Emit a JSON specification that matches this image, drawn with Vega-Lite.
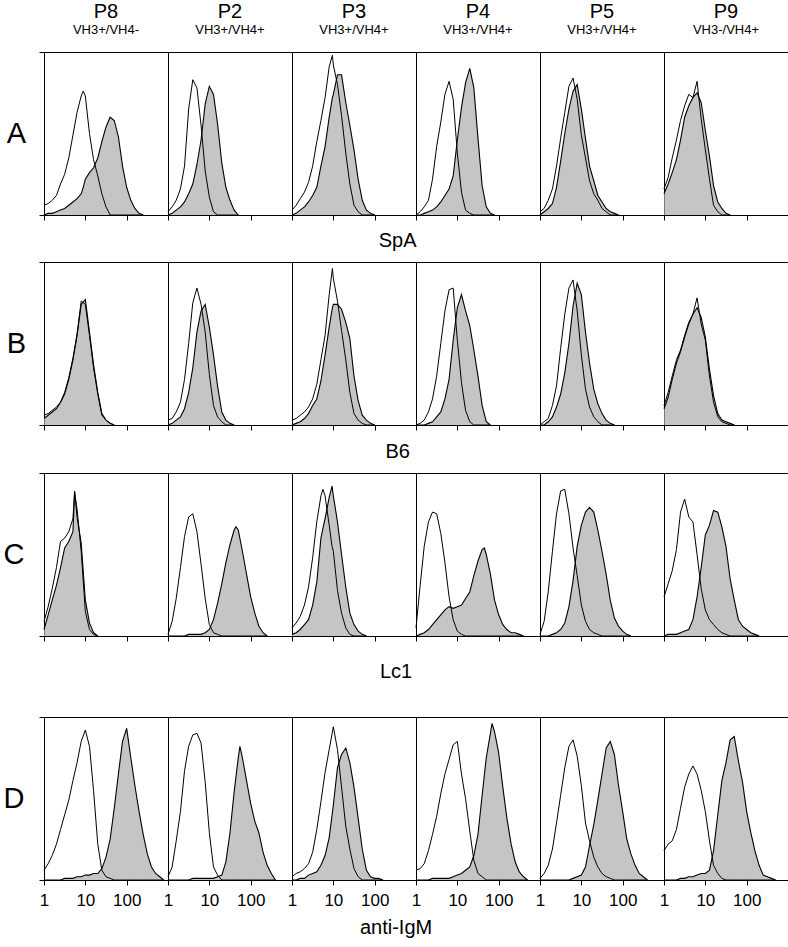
{
"$schema":"https://vega.github.io/schema/vega-lite/v6.json",
"background":"white",
"padding":{"left":3,"top":2,"right":0,"bottom":0},
"config":{"font":"Liberation Sans","view":{"stroke":"#000","strokeWidth":1},
"axis":{"grid":false,"domain":false,"minExtent":0,"tickColor":"#000","tickSize":5,"labelColor":"#000","labelFontSize":17,"labelFlush":false,"labelOverlap":false,"labelPadding":3,"labelFont":"Liberation Sans"},
"header":{"labelColor":"#000","labelFont":"Liberation Sans"},
"title":{"color":"#000","fontWeight":"normal","fontSize":20,"font":"Liberation Sans"}},
"data":{"values":[
{"r":"A","p":"P8","t":"VH3+/VH4-"},{"r":"A","p":"P2","t":"VH3+/VH4+"},{"r":"A","p":"P3","t":"VH3+/VH4+"},{"r":"A","p":"P4","t":"VH3+/VH4+"},{"r":"A","p":"P5","t":"VH3+/VH4+"},{"r":"A","p":"P9","t":"VH3-/VH4+"},
{"r":"A","p":"P8","x":1,"o":6,"f":0},{"r":"A","p":"P8","x":1.26,"o":7,"f":1},{"r":"A","p":"P8","x":1.58,"o":9,"f":1},{"r":"A","p":"P8","x":2,"o":12,"f":2},{"r":"A","p":"P8","x":2.51,"o":19,"f":3},{"r":"A","p":"P8","x":3.16,"o":25,"f":4},{"r":"A","p":"P8","x":3.98,"o":35,"f":6},{"r":"A","p":"P8","x":5.01,"o":49,"f":8},{"r":"A","p":"P8","x":6.31,"o":63,"f":10},{"r":"A","p":"P8","x":7.94,"o":73,"f":13},{"r":"A","p":"P8","x":8.9,"o":76,"f":17},{"r":"A","p":"P8","x":10,"o":73,"f":22},{"r":"A","p":"P8","x":12.6,"o":50,"f":26},{"r":"A","p":"P8","x":15.8,"o":34,"f":29},{"r":"A","p":"P8","x":20,"o":24,"f":35},{"r":"A","p":"P8","x":25.1,"o":13,"f":45},{"r":"A","p":"P8","x":31.6,"o":5,"f":54},{"r":"A","p":"P8","x":39.8,"o":0,"f":60},{"r":"A","p":"P8","x":50.1,"o":0,"f":58},{"r":"A","p":"P8","x":63.1,"o":0,"f":48},{"r":"A","p":"P8","x":79.4,"o":0,"f":30},{"r":"A","p":"P8","x":100,"o":0,"f":17},{"r":"A","p":"P8","x":126,"o":0,"f":9},{"r":"A","p":"P8","x":158,"o":0,"f":4},{"r":"A","p":"P8","x":200,"o":0,"f":1},{"r":"A","p":"P8","x":251,"o":0,"f":0},
{"r":"A","p":"P2","x":1,"o":2,"f":0},{"r":"A","p":"P2","x":1.26,"o":5,"f":1},{"r":"A","p":"P2","x":1.58,"o":9,"f":3},{"r":"A","p":"P2","x":2,"o":16,"f":5},{"r":"A","p":"P2","x":2.51,"o":30,"f":8},{"r":"A","p":"P2","x":3.16,"o":65,"f":13},{"r":"A","p":"P2","x":3.98,"o":83,"f":19},{"r":"A","p":"P2","x":5.01,"o":78,"f":31},{"r":"A","p":"P2","x":6.31,"o":55,"f":46},{"r":"A","p":"P2","x":7.94,"o":27,"f":68},{"r":"A","p":"P2","x":10,"o":11,"f":79},{"r":"A","p":"P2","x":12.6,"o":2,"f":74},{"r":"A","p":"P2","x":15.8,"o":0,"f":56},{"r":"A","p":"P2","x":20,"o":0,"f":32},{"r":"A","p":"P2","x":25.1,"o":0,"f":17},{"r":"A","p":"P2","x":31.6,"o":0,"f":9},{"r":"A","p":"P2","x":39.8,"o":0,"f":3},{"r":"A","p":"P2","x":50.1,"o":0,"f":0},
{"r":"A","p":"P3","x":1,"o":3,"f":0},{"r":"A","p":"P3","x":1.26,"o":6,"f":1},{"r":"A","p":"P3","x":1.58,"o":10,"f":3},{"r":"A","p":"P3","x":2,"o":14,"f":5},{"r":"A","p":"P3","x":2.51,"o":20,"f":8},{"r":"A","p":"P3","x":3.16,"o":30,"f":12},{"r":"A","p":"P3","x":3.98,"o":45,"f":17},{"r":"A","p":"P3","x":5.01,"o":58,"f":30},{"r":"A","p":"P3","x":6.31,"o":72,"f":42},{"r":"A","p":"P3","x":7.94,"o":91,"f":60},{"r":"A","p":"P3","x":9.5,"o":98,"f":72},{"r":"A","p":"P3","x":10,"o":92,"f":74},{"r":"A","p":"P3","x":12.6,"o":80,"f":86},{"r":"A","p":"P3","x":15.8,"o":61,"f":86},{"r":"A","p":"P3","x":20,"o":38,"f":69},{"r":"A","p":"P3","x":25.1,"o":19,"f":55},{"r":"A","p":"P3","x":31.6,"o":6,"f":40},{"r":"A","p":"P3","x":39.8,"o":2,"f":22},{"r":"A","p":"P3","x":50.1,"o":0,"f":9},{"r":"A","p":"P3","x":63.1,"o":0,"f":3},{"r":"A","p":"P3","x":79.4,"o":0,"f":1},{"r":"A","p":"P3","x":100,"o":0,"f":0},
{"r":"A","p":"P4","x":1,"o":0,"f":0},{"r":"A","p":"P4","x":1.26,"o":2,"f":0},{"r":"A","p":"P4","x":1.58,"o":5,"f":1},{"r":"A","p":"P4","x":2,"o":9,"f":2},{"r":"A","p":"P4","x":2.51,"o":22,"f":3},{"r":"A","p":"P4","x":3.16,"o":42,"f":5},{"r":"A","p":"P4","x":3.98,"o":57,"f":8},{"r":"A","p":"P4","x":5.01,"o":74,"f":12},{"r":"A","p":"P4","x":6.31,"o":82,"f":16},{"r":"A","p":"P4","x":7.94,"o":71,"f":24},{"r":"A","p":"P4","x":10,"o":38,"f":46},{"r":"A","p":"P4","x":12.6,"o":14,"f":66},{"r":"A","p":"P4","x":15.8,"o":3,"f":81},{"r":"A","p":"P4","x":20,"o":1,"f":90},{"r":"A","p":"P4","x":25.1,"o":0,"f":78},{"r":"A","p":"P4","x":31.6,"o":0,"f":47},{"r":"A","p":"P4","x":39.8,"o":0,"f":18},{"r":"A","p":"P4","x":50.1,"o":0,"f":5},{"r":"A","p":"P4","x":63.1,"o":0,"f":1},{"r":"A","p":"P4","x":79.4,"o":0,"f":0},
{"r":"A","p":"P5","x":1,"o":2,"f":0},{"r":"A","p":"P5","x":1.26,"o":4,"f":2},{"r":"A","p":"P5","x":1.58,"o":9,"f":4},{"r":"A","p":"P5","x":2,"o":16,"f":7},{"r":"A","p":"P5","x":2.51,"o":30,"f":17},{"r":"A","p":"P5","x":3.16,"o":47,"f":33},{"r":"A","p":"P5","x":3.98,"o":63,"f":50},{"r":"A","p":"P5","x":5.01,"o":79,"f":65},{"r":"A","p":"P5","x":6.31,"o":84,"f":76},{"r":"A","p":"P5","x":7.94,"o":71,"f":80},{"r":"A","p":"P5","x":10,"o":49,"f":65},{"r":"A","p":"P5","x":12.6,"o":35,"f":47},{"r":"A","p":"P5","x":15.8,"o":21,"f":30},{"r":"A","p":"P5","x":20,"o":13,"f":21},{"r":"A","p":"P5","x":25.1,"o":9,"f":12},{"r":"A","p":"P5","x":31.6,"o":4,"f":8},{"r":"A","p":"P5","x":39.8,"o":2,"f":4},{"r":"A","p":"P5","x":50.1,"o":0,"f":2},{"r":"A","p":"P5","x":63.1,"o":0,"f":1},{"r":"A","p":"P5","x":79.4,"o":0,"f":0},
{"r":"A","p":"P9","x":1,"o":16,"f":13},{"r":"A","p":"P9","x":1.26,"o":23,"f":19},{"r":"A","p":"P9","x":1.58,"o":35,"f":26},{"r":"A","p":"P9","x":2,"o":46,"f":34},{"r":"A","p":"P9","x":2.51,"o":58,"f":46},{"r":"A","p":"P9","x":3.16,"o":67,"f":60},{"r":"A","p":"P9","x":3.98,"o":74,"f":67},{"r":"A","p":"P9","x":5.01,"o":72,"f":72},{"r":"A","p":"P9","x":6.31,"o":82,"f":75},{"r":"A","p":"P9","x":7.94,"o":59,"f":69},{"r":"A","p":"P9","x":10,"o":40,"f":52},{"r":"A","p":"P9","x":12.6,"o":22,"f":36},{"r":"A","p":"P9","x":15.8,"o":6,"f":18},{"r":"A","p":"P9","x":20,"o":2,"f":8},{"r":"A","p":"P9","x":25.1,"o":0,"f":4},{"r":"A","p":"P9","x":31.6,"o":0,"f":1},{"r":"A","p":"P9","x":39.8,"o":0,"f":0},
{"r":"B","p":"P8","x":1,"o":6,"f":4},{"r":"B","p":"P8","x":1.26,"o":7,"f":6},{"r":"B","p":"P8","x":1.58,"o":9,"f":8},{"r":"B","p":"P8","x":2,"o":11,"f":10},{"r":"B","p":"P8","x":2.51,"o":14,"f":14},{"r":"B","p":"P8","x":3.16,"o":20,"f":19},{"r":"B","p":"P8","x":3.98,"o":29,"f":28},{"r":"B","p":"P8","x":5.01,"o":41,"f":40},{"r":"B","p":"P8","x":6.31,"o":56,"f":55},{"r":"B","p":"P8","x":7.94,"o":76,"f":74},{"r":"B","p":"P8","x":10,"o":74,"f":77},{"r":"B","p":"P8","x":12.6,"o":55,"f":57},{"r":"B","p":"P8","x":15.8,"o":35,"f":37},{"r":"B","p":"P8","x":20,"o":19,"f":20},{"r":"B","p":"P8","x":25.1,"o":6,"f":7},{"r":"B","p":"P8","x":31.6,"o":3,"f":3},{"r":"B","p":"P8","x":39.8,"o":1,"f":1},{"r":"B","p":"P8","x":50.1,"o":0,"f":0},
{"r":"B","p":"P2","x":1,"o":3,"f":0},{"r":"B","p":"P2","x":1.26,"o":4,"f":1},{"r":"B","p":"P2","x":1.58,"o":8,"f":3},{"r":"B","p":"P2","x":2,"o":14,"f":5},{"r":"B","p":"P2","x":2.51,"o":28,"f":10},{"r":"B","p":"P2","x":3.16,"o":50,"f":20},{"r":"B","p":"P2","x":3.98,"o":75,"f":35},{"r":"B","p":"P2","x":5.01,"o":84,"f":57},{"r":"B","p":"P2","x":6.31,"o":74,"f":70},{"r":"B","p":"P2","x":7.94,"o":57,"f":74},{"r":"B","p":"P2","x":10,"o":31,"f":60},{"r":"B","p":"P2","x":12.6,"o":12,"f":43},{"r":"B","p":"P2","x":15.8,"o":5,"f":24},{"r":"B","p":"P2","x":20,"o":2,"f":8},{"r":"B","p":"P2","x":25.1,"o":0,"f":3},{"r":"B","p":"P2","x":31.6,"o":0,"f":1},{"r":"B","p":"P2","x":39.8,"o":0,"f":0},
{"r":"B","p":"P3","x":1,"o":3,"f":0},{"r":"B","p":"P3","x":1.26,"o":4,"f":1},{"r":"B","p":"P3","x":1.58,"o":6,"f":2},{"r":"B","p":"P3","x":2,"o":8,"f":4},{"r":"B","p":"P3","x":2.51,"o":11,"f":7},{"r":"B","p":"P3","x":3.16,"o":16,"f":12},{"r":"B","p":"P3","x":3.98,"o":25,"f":16},{"r":"B","p":"P3","x":5.01,"o":40,"f":27},{"r":"B","p":"P3","x":6.31,"o":55,"f":43},{"r":"B","p":"P3","x":7.94,"o":80,"f":60},{"r":"B","p":"P3","x":9.5,"o":96,"f":72},{"r":"B","p":"P3","x":10,"o":90,"f":74},{"r":"B","p":"P3","x":12.6,"o":76,"f":74},{"r":"B","p":"P3","x":15.8,"o":58,"f":71},{"r":"B","p":"P3","x":20,"o":40,"f":63},{"r":"B","p":"P3","x":25.1,"o":20,"f":53},{"r":"B","p":"P3","x":31.6,"o":7,"f":30},{"r":"B","p":"P3","x":39.8,"o":3,"f":15},{"r":"B","p":"P3","x":50.1,"o":1,"f":6},{"r":"B","p":"P3","x":63.1,"o":0,"f":3},{"r":"B","p":"P3","x":79.4,"o":0,"f":1},{"r":"B","p":"P3","x":100,"o":0,"f":0},
{"r":"B","p":"P4","x":1,"o":0,"f":0},{"r":"B","p":"P4","x":1.26,"o":1,"f":0},{"r":"B","p":"P4","x":1.58,"o":3,"f":0},{"r":"B","p":"P4","x":2,"o":8,"f":1},{"r":"B","p":"P4","x":2.51,"o":16,"f":2},{"r":"B","p":"P4","x":3.16,"o":30,"f":5},{"r":"B","p":"P4","x":3.98,"o":50,"f":8},{"r":"B","p":"P4","x":5.01,"o":70,"f":16},{"r":"B","p":"P4","x":6.31,"o":83,"f":28},{"r":"B","p":"P4","x":7.94,"o":84,"f":52},{"r":"B","p":"P4","x":10,"o":52,"f":72},{"r":"B","p":"P4","x":12.6,"o":26,"f":80},{"r":"B","p":"P4","x":15.8,"o":9,"f":70},{"r":"B","p":"P4","x":20,"o":2,"f":61},{"r":"B","p":"P4","x":25.1,"o":0,"f":46},{"r":"B","p":"P4","x":31.6,"o":0,"f":30},{"r":"B","p":"P4","x":39.8,"o":0,"f":12},{"r":"B","p":"P4","x":50.1,"o":0,"f":2},{"r":"B","p":"P4","x":63.1,"o":0,"f":0},
{"r":"B","p":"P5","x":1,"o":0,"f":0},{"r":"B","p":"P5","x":1.26,"o":2,"f":0},{"r":"B","p":"P5","x":1.58,"o":4,"f":2},{"r":"B","p":"P5","x":2,"o":12,"f":5},{"r":"B","p":"P5","x":2.51,"o":24,"f":11},{"r":"B","p":"P5","x":3.16,"o":47,"f":19},{"r":"B","p":"P5","x":3.98,"o":68,"f":32},{"r":"B","p":"P5","x":5.01,"o":84,"f":50},{"r":"B","p":"P5","x":6.31,"o":89,"f":73},{"r":"B","p":"P5","x":7.94,"o":70,"f":87},{"r":"B","p":"P5","x":10,"o":43,"f":80},{"r":"B","p":"P5","x":12.6,"o":22,"f":57},{"r":"B","p":"P5","x":15.8,"o":11,"f":38},{"r":"B","p":"P5","x":20,"o":5,"f":22},{"r":"B","p":"P5","x":25.1,"o":2,"f":13},{"r":"B","p":"P5","x":31.6,"o":0,"f":7},{"r":"B","p":"P5","x":39.8,"o":0,"f":3},{"r":"B","p":"P5","x":50.1,"o":0,"f":1},{"r":"B","p":"P5","x":63.1,"o":0,"f":0},
{"r":"B","p":"P9","x":1,"o":12,"f":10},{"r":"B","p":"P9","x":1.26,"o":20,"f":17},{"r":"B","p":"P9","x":1.58,"o":30,"f":28},{"r":"B","p":"P9","x":2,"o":40,"f":38},{"r":"B","p":"P9","x":2.51,"o":46,"f":45},{"r":"B","p":"P9","x":3.16,"o":55,"f":54},{"r":"B","p":"P9","x":3.98,"o":63,"f":62},{"r":"B","p":"P9","x":5.01,"o":68,"f":68},{"r":"B","p":"P9","x":6.31,"o":78,"f":72},{"r":"B","p":"P9","x":7.94,"o":62,"f":66},{"r":"B","p":"P9","x":10,"o":52,"f":54},{"r":"B","p":"P9","x":12.6,"o":30,"f":34},{"r":"B","p":"P9","x":15.8,"o":14,"f":18},{"r":"B","p":"P9","x":20,"o":5,"f":7},{"r":"B","p":"P9","x":25.1,"o":2,"f":3},{"r":"B","p":"P9","x":31.6,"o":1,"f":2},{"r":"B","p":"P9","x":39.8,"o":0,"f":1},{"r":"B","p":"P9","x":50.1,"o":0,"f":0},
{"r":"C","p":"P8","x":1,"o":9,"f":4},{"r":"C","p":"P8","x":1.26,"o":18,"f":13},{"r":"C","p":"P8","x":1.58,"o":29,"f":22},{"r":"C","p":"P8","x":2,"o":42,"f":31},{"r":"C","p":"P8","x":2.51,"o":58,"f":42},{"r":"C","p":"P8","x":3.16,"o":60,"f":54},{"r":"C","p":"P8","x":3.98,"o":64,"f":58},{"r":"C","p":"P8","x":5.01,"o":72,"f":64},{"r":"C","p":"P8","x":5.5,"o":88,"f":89},{"r":"C","p":"P8","x":6.31,"o":78,"f":73},{"r":"C","p":"P8","x":7.94,"o":52,"f":57},{"r":"C","p":"P8","x":10,"o":15,"f":22},{"r":"C","p":"P8","x":12.6,"o":4,"f":8},{"r":"C","p":"P8","x":15.8,"o":1,"f":2},{"r":"C","p":"P8","x":20,"o":0,"f":0},
{"r":"C","p":"P2","x":1,"o":1,"f":0},{"r":"C","p":"P2","x":1.26,"o":9,"f":0},{"r":"C","p":"P2","x":1.58,"o":23,"f":0},{"r":"C","p":"P2","x":2,"o":42,"f":0},{"r":"C","p":"P2","x":2.51,"o":61,"f":0},{"r":"C","p":"P2","x":3.16,"o":73,"f":1},{"r":"C","p":"P2","x":3.98,"o":75,"f":1},{"r":"C","p":"P2","x":5.01,"o":64,"f":1},{"r":"C","p":"P2","x":6.31,"o":44,"f":1},{"r":"C","p":"P2","x":7.94,"o":23,"f":2},{"r":"C","p":"P2","x":10,"o":7,"f":4},{"r":"C","p":"P2","x":12.6,"o":2,"f":10},{"r":"C","p":"P2","x":15.8,"o":1,"f":20},{"r":"C","p":"P2","x":20,"o":0,"f":32},{"r":"C","p":"P2","x":25.1,"o":0,"f":45},{"r":"C","p":"P2","x":31.6,"o":0,"f":56},{"r":"C","p":"P2","x":39.8,"o":0,"f":65},{"r":"C","p":"P2","x":44,"o":0,"f":67},{"r":"C","p":"P2","x":50.1,"o":0,"f":65},{"r":"C","p":"P2","x":63.1,"o":0,"f":52},{"r":"C","p":"P2","x":79.4,"o":0,"f":38},{"r":"C","p":"P2","x":100,"o":0,"f":24},{"r":"C","p":"P2","x":126,"o":0,"f":14},{"r":"C","p":"P2","x":158,"o":0,"f":6},{"r":"C","p":"P2","x":200,"o":0,"f":2},{"r":"C","p":"P2","x":251,"o":0,"f":0},
{"r":"C","p":"P3","x":1,"o":5,"f":1},{"r":"C","p":"P3","x":1.26,"o":8,"f":2},{"r":"C","p":"P3","x":1.58,"o":12,"f":4},{"r":"C","p":"P3","x":2,"o":19,"f":7},{"r":"C","p":"P3","x":2.51,"o":30,"f":10},{"r":"C","p":"P3","x":3.16,"o":48,"f":19},{"r":"C","p":"P3","x":3.98,"o":70,"f":33},{"r":"C","p":"P3","x":5.01,"o":86,"f":60},{"r":"C","p":"P3","x":5.6,"o":90,"f":66},{"r":"C","p":"P3","x":6.31,"o":86,"f":72},{"r":"C","p":"P3","x":7.94,"o":68,"f":85},{"r":"C","p":"P3","x":9.3,"o":55,"f":92},{"r":"C","p":"P3","x":10,"o":52,"f":86},{"r":"C","p":"P3","x":12.6,"o":28,"f":70},{"r":"C","p":"P3","x":15.8,"o":14,"f":50},{"r":"C","p":"P3","x":20,"o":5,"f":30},{"r":"C","p":"P3","x":25.1,"o":1,"f":14},{"r":"C","p":"P3","x":31.6,"o":0,"f":7},{"r":"C","p":"P3","x":39.8,"o":0,"f":3},{"r":"C","p":"P3","x":50.1,"o":0,"f":1},{"r":"C","p":"P3","x":63.1,"o":0,"f":0},
{"r":"C","p":"P4","x":1,"o":5,"f":0},{"r":"C","p":"P4","x":1.26,"o":31,"f":1},{"r":"C","p":"P4","x":1.58,"o":55,"f":2},{"r":"C","p":"P4","x":2,"o":70,"f":4},{"r":"C","p":"P4","x":2.51,"o":76,"f":7},{"r":"C","p":"P4","x":3.16,"o":75,"f":10},{"r":"C","p":"P4","x":3.98,"o":63,"f":13},{"r":"C","p":"P4","x":5.01,"o":45,"f":16},{"r":"C","p":"P4","x":6.31,"o":24,"f":18},{"r":"C","p":"P4","x":7.94,"o":10,"f":17},{"r":"C","p":"P4","x":10,"o":3,"f":18},{"r":"C","p":"P4","x":12.6,"o":1,"f":19},{"r":"C","p":"P4","x":15.8,"o":0,"f":23},{"r":"C","p":"P4","x":20,"o":0,"f":27},{"r":"C","p":"P4","x":25.1,"o":0,"f":37},{"r":"C","p":"P4","x":31.6,"o":0,"f":46},{"r":"C","p":"P4","x":39.8,"o":0,"f":53},{"r":"C","p":"P4","x":45,"o":0,"f":54},{"r":"C","p":"P4","x":50.1,"o":0,"f":50},{"r":"C","p":"P4","x":63.1,"o":0,"f":38},{"r":"C","p":"P4","x":79.4,"o":0,"f":22},{"r":"C","p":"P4","x":100,"o":0,"f":13},{"r":"C","p":"P4","x":126,"o":0,"f":7},{"r":"C","p":"P4","x":158,"o":0,"f":4},{"r":"C","p":"P4","x":200,"o":0,"f":2},{"r":"C","p":"P4","x":251,"o":0,"f":2},{"r":"C","p":"P4","x":316,"o":0,"f":1},{"r":"C","p":"P4","x":398,"o":0,"f":0},
{"r":"C","p":"P5","x":1,"o":1,"f":0},{"r":"C","p":"P5","x":1.26,"o":9,"f":0},{"r":"C","p":"P5","x":1.58,"o":27,"f":0},{"r":"C","p":"P5","x":2,"o":52,"f":1},{"r":"C","p":"P5","x":2.51,"o":75,"f":2},{"r":"C","p":"P5","x":3.16,"o":89,"f":4},{"r":"C","p":"P5","x":3.98,"o":90,"f":8},{"r":"C","p":"P5","x":5.01,"o":75,"f":18},{"r":"C","p":"P5","x":6.31,"o":54,"f":34},{"r":"C","p":"P5","x":7.94,"o":37,"f":55},{"r":"C","p":"P5","x":10,"o":19,"f":68},{"r":"C","p":"P5","x":12.6,"o":9,"f":76},{"r":"C","p":"P5","x":15.8,"o":4,"f":79},{"r":"C","p":"P5","x":20,"o":2,"f":76},{"r":"C","p":"P5","x":25.1,"o":1,"f":65},{"r":"C","p":"P5","x":31.6,"o":0,"f":52},{"r":"C","p":"P5","x":39.8,"o":0,"f":38},{"r":"C","p":"P5","x":50.1,"o":0,"f":22},{"r":"C","p":"P5","x":63.1,"o":0,"f":11},{"r":"C","p":"P5","x":79.4,"o":0,"f":6},{"r":"C","p":"P5","x":100,"o":0,"f":3},{"r":"C","p":"P5","x":126,"o":0,"f":1},{"r":"C","p":"P5","x":158,"o":0,"f":0},
{"r":"C","p":"P9","x":1,"o":24,"f":0},{"r":"C","p":"P9","x":1.26,"o":32,"f":1},{"r":"C","p":"P9","x":1.58,"o":40,"f":1},{"r":"C","p":"P9","x":2,"o":53,"f":1},{"r":"C","p":"P9","x":2.51,"o":76,"f":2},{"r":"C","p":"P9","x":3.16,"o":84,"f":3},{"r":"C","p":"P9","x":3.98,"o":73,"f":4},{"r":"C","p":"P9","x":5.01,"o":70,"f":10},{"r":"C","p":"P9","x":6.31,"o":50,"f":24},{"r":"C","p":"P9","x":7.94,"o":29,"f":42},{"r":"C","p":"P9","x":10,"o":16,"f":62},{"r":"C","p":"P9","x":12.6,"o":10,"f":68},{"r":"C","p":"P9","x":15.8,"o":7,"f":77},{"r":"C","p":"P9","x":20,"o":4,"f":76},{"r":"C","p":"P9","x":25.1,"o":2,"f":67},{"r":"C","p":"P9","x":31.6,"o":1,"f":55},{"r":"C","p":"P9","x":39.8,"o":0,"f":35},{"r":"C","p":"P9","x":50.1,"o":0,"f":22},{"r":"C","p":"P9","x":63.1,"o":0,"f":10},{"r":"C","p":"P9","x":79.4,"o":0,"f":6},{"r":"C","p":"P9","x":100,"o":0,"f":4},{"r":"C","p":"P9","x":126,"o":0,"f":2},{"r":"C","p":"P9","x":158,"o":0,"f":1},{"r":"C","p":"P9","x":200,"o":0,"f":0},
{"r":"D","p":"P8","x":1,"o":6,"f":0},{"r":"D","p":"P8","x":1.26,"o":10,"f":0},{"r":"D","p":"P8","x":1.58,"o":15,"f":0},{"r":"D","p":"P8","x":2,"o":22,"f":0},{"r":"D","p":"P8","x":2.51,"o":31,"f":0},{"r":"D","p":"P8","x":3.16,"o":40,"f":1},{"r":"D","p":"P8","x":3.98,"o":49,"f":1},{"r":"D","p":"P8","x":5.01,"o":61,"f":1},{"r":"D","p":"P8","x":6.31,"o":72,"f":2},{"r":"D","p":"P8","x":7.94,"o":85,"f":2},{"r":"D","p":"P8","x":10,"o":92,"f":3},{"r":"D","p":"P8","x":12.6,"o":82,"f":3},{"r":"D","p":"P8","x":15.8,"o":55,"f":4},{"r":"D","p":"P8","x":20,"o":22,"f":4},{"r":"D","p":"P8","x":25.1,"o":6,"f":7},{"r":"D","p":"P8","x":31.6,"o":2,"f":14},{"r":"D","p":"P8","x":39.8,"o":1,"f":25},{"r":"D","p":"P8","x":50.1,"o":0,"f":44},{"r":"D","p":"P8","x":63.1,"o":0,"f":65},{"r":"D","p":"P8","x":79.4,"o":0,"f":85},{"r":"D","p":"P8","x":100,"o":0,"f":93},{"r":"D","p":"P8","x":126,"o":0,"f":75},{"r":"D","p":"P8","x":158,"o":0,"f":58},{"r":"D","p":"P8","x":200,"o":0,"f":42},{"r":"D","p":"P8","x":251,"o":0,"f":28},{"r":"D","p":"P8","x":316,"o":0,"f":16},{"r":"D","p":"P8","x":398,"o":0,"f":8},{"r":"D","p":"P8","x":501,"o":0,"f":4},{"r":"D","p":"P8","x":631,"o":0,"f":2},{"r":"D","p":"P8","x":794,"o":0,"f":0},
{"r":"D","p":"P2","x":1,"o":2,"f":0},{"r":"D","p":"P2","x":1.26,"o":8,"f":0},{"r":"D","p":"P2","x":1.58,"o":24,"f":0},{"r":"D","p":"P2","x":2,"o":42,"f":0},{"r":"D","p":"P2","x":2.51,"o":67,"f":0},{"r":"D","p":"P2","x":3.16,"o":82,"f":0},{"r":"D","p":"P2","x":3.98,"o":89,"f":1},{"r":"D","p":"P2","x":5.01,"o":90,"f":1},{"r":"D","p":"P2","x":6.31,"o":84,"f":1},{"r":"D","p":"P2","x":7.94,"o":60,"f":1},{"r":"D","p":"P2","x":10,"o":29,"f":1},{"r":"D","p":"P2","x":12.6,"o":8,"f":1},{"r":"D","p":"P2","x":15.8,"o":3,"f":2},{"r":"D","p":"P2","x":20,"o":0,"f":3},{"r":"D","p":"P2","x":25.1,"o":0,"f":11},{"r":"D","p":"P2","x":31.6,"o":0,"f":29},{"r":"D","p":"P2","x":39.8,"o":0,"f":54},{"r":"D","p":"P2","x":50.1,"o":0,"f":75},{"r":"D","p":"P2","x":55,"o":0,"f":82},{"r":"D","p":"P2","x":63.1,"o":0,"f":75},{"r":"D","p":"P2","x":79.4,"o":0,"f":61},{"r":"D","p":"P2","x":100,"o":0,"f":47},{"r":"D","p":"P2","x":126,"o":0,"f":36},{"r":"D","p":"P2","x":158,"o":0,"f":29},{"r":"D","p":"P2","x":200,"o":0,"f":17},{"r":"D","p":"P2","x":251,"o":0,"f":9},{"r":"D","p":"P2","x":316,"o":0,"f":4},{"r":"D","p":"P2","x":398,"o":0,"f":0},
{"r":"D","p":"P3","x":1,"o":2,"f":0},{"r":"D","p":"P3","x":1.26,"o":4,"f":0},{"r":"D","p":"P3","x":1.58,"o":5,"f":1},{"r":"D","p":"P3","x":2,"o":7,"f":1},{"r":"D","p":"P3","x":2.51,"o":10,"f":3},{"r":"D","p":"P3","x":3.16,"o":17,"f":4},{"r":"D","p":"P3","x":3.98,"o":31,"f":5},{"r":"D","p":"P3","x":5.01,"o":48,"f":9},{"r":"D","p":"P3","x":6.31,"o":66,"f":15},{"r":"D","p":"P3","x":7.94,"o":80,"f":26},{"r":"D","p":"P3","x":10,"o":94,"f":46},{"r":"D","p":"P3","x":12.6,"o":80,"f":69},{"r":"D","p":"P3","x":15.8,"o":57,"f":77},{"r":"D","p":"P3","x":20,"o":33,"f":81},{"r":"D","p":"P3","x":25.1,"o":19,"f":72},{"r":"D","p":"P3","x":31.6,"o":7,"f":57},{"r":"D","p":"P3","x":39.8,"o":2,"f":38},{"r":"D","p":"P3","x":50.1,"o":0,"f":19},{"r":"D","p":"P3","x":63.1,"o":0,"f":6},{"r":"D","p":"P3","x":79.4,"o":0,"f":2},{"r":"D","p":"P3","x":100,"o":0,"f":1},{"r":"D","p":"P3","x":126,"o":0,"f":1},{"r":"D","p":"P3","x":158,"o":0,"f":0},
{"r":"D","p":"P4","x":1,"o":6,"f":0},{"r":"D","p":"P4","x":1.26,"o":7,"f":0},{"r":"D","p":"P4","x":1.58,"o":10,"f":0},{"r":"D","p":"P4","x":2,"o":18,"f":0},{"r":"D","p":"P4","x":2.51,"o":28,"f":1},{"r":"D","p":"P4","x":3.16,"o":39,"f":1},{"r":"D","p":"P4","x":3.98,"o":53,"f":1},{"r":"D","p":"P4","x":5.01,"o":65,"f":1},{"r":"D","p":"P4","x":6.31,"o":74,"f":1},{"r":"D","p":"P4","x":7.94,"o":83,"f":2},{"r":"D","p":"P4","x":10,"o":85,"f":3},{"r":"D","p":"P4","x":12.6,"o":65,"f":4},{"r":"D","p":"P4","x":15.8,"o":50,"f":6},{"r":"D","p":"P4","x":20,"o":30,"f":8},{"r":"D","p":"P4","x":25.1,"o":12,"f":15},{"r":"D","p":"P4","x":31.6,"o":4,"f":28},{"r":"D","p":"P4","x":39.8,"o":2,"f":52},{"r":"D","p":"P4","x":50.1,"o":0,"f":75},{"r":"D","p":"P4","x":63.1,"o":0,"f":90},{"r":"D","p":"P4","x":69,"o":0,"f":96},{"r":"D","p":"P4","x":79.4,"o":0,"f":91},{"r":"D","p":"P4","x":100,"o":0,"f":78},{"r":"D","p":"P4","x":126,"o":0,"f":57},{"r":"D","p":"P4","x":158,"o":0,"f":38},{"r":"D","p":"P4","x":200,"o":0,"f":22},{"r":"D","p":"P4","x":251,"o":0,"f":11},{"r":"D","p":"P4","x":316,"o":0,"f":5},{"r":"D","p":"P4","x":398,"o":0,"f":2},{"r":"D","p":"P4","x":501,"o":0,"f":0},
{"r":"D","p":"P5","x":1,"o":1,"f":0},{"r":"D","p":"P5","x":1.26,"o":4,"f":0},{"r":"D","p":"P5","x":1.58,"o":9,"f":0},{"r":"D","p":"P5","x":2,"o":19,"f":0},{"r":"D","p":"P5","x":2.51,"o":35,"f":0},{"r":"D","p":"P5","x":3.16,"o":52,"f":0},{"r":"D","p":"P5","x":3.98,"o":69,"f":0},{"r":"D","p":"P5","x":5.01,"o":82,"f":0},{"r":"D","p":"P5","x":6.31,"o":86,"f":1},{"r":"D","p":"P5","x":7.94,"o":76,"f":2},{"r":"D","p":"P5","x":10,"o":58,"f":3},{"r":"D","p":"P5","x":12.6,"o":35,"f":8},{"r":"D","p":"P5","x":15.8,"o":24,"f":21},{"r":"D","p":"P5","x":20,"o":14,"f":34},{"r":"D","p":"P5","x":25.1,"o":8,"f":49},{"r":"D","p":"P5","x":31.6,"o":4,"f":65},{"r":"D","p":"P5","x":39.8,"o":2,"f":81},{"r":"D","p":"P5","x":50.1,"o":1,"f":85},{"r":"D","p":"P5","x":63.1,"o":0,"f":77},{"r":"D","p":"P5","x":79.4,"o":0,"f":58},{"r":"D","p":"P5","x":100,"o":0,"f":42},{"r":"D","p":"P5","x":126,"o":0,"f":25},{"r":"D","p":"P5","x":158,"o":0,"f":16},{"r":"D","p":"P5","x":200,"o":0,"f":9},{"r":"D","p":"P5","x":251,"o":0,"f":4},{"r":"D","p":"P5","x":316,"o":0,"f":2},{"r":"D","p":"P5","x":398,"o":0,"f":0},
{"r":"D","p":"P9","x":1,"o":18,"f":0},{"r":"D","p":"P9","x":1.26,"o":22,"f":0},{"r":"D","p":"P9","x":1.58,"o":24,"f":0},{"r":"D","p":"P9","x":2,"o":31,"f":0},{"r":"D","p":"P9","x":2.51,"o":44,"f":1},{"r":"D","p":"P9","x":3.16,"o":57,"f":1},{"r":"D","p":"P9","x":3.98,"o":65,"f":2},{"r":"D","p":"P9","x":5.01,"o":70,"f":2},{"r":"D","p":"P9","x":6.31,"o":65,"f":3},{"r":"D","p":"P9","x":7.94,"o":55,"f":4},{"r":"D","p":"P9","x":10,"o":42,"f":4},{"r":"D","p":"P9","x":12.6,"o":24,"f":6},{"r":"D","p":"P9","x":15.8,"o":9,"f":18},{"r":"D","p":"P9","x":20,"o":4,"f":40},{"r":"D","p":"P9","x":25.1,"o":1,"f":61},{"r":"D","p":"P9","x":31.6,"o":0,"f":72},{"r":"D","p":"P9","x":39.8,"o":0,"f":86},{"r":"D","p":"P9","x":50.1,"o":0,"f":88},{"r":"D","p":"P9","x":63.1,"o":0,"f":73},{"r":"D","p":"P9","x":79.4,"o":0,"f":60},{"r":"D","p":"P9","x":100,"o":0,"f":42},{"r":"D","p":"P9","x":126,"o":0,"f":29},{"r":"D","p":"P9","x":158,"o":0,"f":18},{"r":"D","p":"P9","x":200,"o":0,"f":9},{"r":"D","p":"P9","x":251,"o":0,"f":3},{"r":"D","p":"P9","x":316,"o":0,"f":2},{"r":"D","p":"P9","x":398,"o":0,"f":1},{"r":"D","p":"P9","x":501,"o":0,"f":0}
]},
"spacing":34,
"vconcat":[
{"spacing":10,"vconcat":[
{"transform":[{"filter":"datum.r==='A'"}],
 "title":{"text":"SpA","orient":"bottom","offset":10,"anchor":"middle"},
 "bounds":"flush",
 "facet":{"row":{"field":"r","type":"nominal","header":{"title":null,"labelAngle":0,"labelFontSize":29,"labelPadding":-7}},
  "column":{"field":"p","type":"nominal","sort":["P8","P2","P3","P4","P5","P9"],"header":{"title":null,"labelFontSize":20,"labelPadding":30}}},
 "spacing":{"row":0,"column":0},
 "spec":{"width":124,"height":163,"layer":[
  {"transform":[{"filter":"isValid(datum.x)"}],"mark":{"type":"area","color":"#adadad","line":{"color":"black","strokeWidth":1.1}},
   "encoding":{"x":{"field":"x","type":"quantitative","scale":{"type":"log","domain":[1,1000]},"axis":{"values":[1,10,100],"labels":false,"title":null}},
    "y":{"field":"f","type":"quantitative","scale":{"domain":[0,100]},"axis":{"values":[0,100],"labels":false,"title":null}}}},
  {"transform":[{"filter":"isValid(datum.x)"}],"mark":{"type":"line","color":"black","strokeWidth":1},"encoding":{"x":{"field":"x","type":"quantitative"},"y":{"field":"o","type":"quantitative"}}},
  {"transform":[{"filter":"isValid(datum.t)"}],"mark":{"type":"text","fontSize":13,"dy":-22,"baseline":"middle","color":"black"},"encoding":{"text":{"field":"t"},"x":{"datum":31.6,"type":"quantitative"},"y":{"datum":100,"type":"quantitative"}}}
 ]}},
{"transform":[{"filter":"datum.r==='B'"}],
 "title":{"text":"B6","orient":"bottom","offset":11,"anchor":"middle"},
 "bounds":"flush",
 "facet":{"row":{"field":"r","type":"nominal","header":{"title":null,"labelAngle":0,"labelFontSize":29,"labelPadding":-7}},
  "column":{"field":"p","type":"nominal","sort":["P8","P2","P3","P4","P5","P9"],"header":{"title":null,"labels":false}}},
 "spacing":{"row":0,"column":0},
 "spec":{"width":124,"height":163,"layer":[
  {"mark":{"type":"area","color":"#adadad","line":{"color":"black","strokeWidth":1.1}},
   "encoding":{"x":{"field":"x","type":"quantitative","scale":{"type":"log","domain":[1,1000]},"axis":{"values":[1,10,100],"labels":false,"title":null}},
    "y":{"field":"f","type":"quantitative","scale":{"domain":[0,100]},"axis":{"values":[0,100],"labels":false,"title":null}}}},
  {"mark":{"type":"line","color":"black","strokeWidth":1},"encoding":{"x":{"field":"x","type":"quantitative"},"y":{"field":"o","type":"quantitative"}}}
 ]}},
{"transform":[{"filter":"datum.r==='C'"}],
 "title":{"text":"Lc1","orient":"bottom","offset":20,"anchor":"middle"},
 "bounds":"flush",
 "facet":{"row":{"field":"r","type":"nominal","header":{"title":null,"labelAngle":0,"labelFontSize":29,"labelPadding":-7}},
  "column":{"field":"p","type":"nominal","sort":["P8","P2","P3","P4","P5","P9"],"header":{"title":null,"labels":false}}},
 "spacing":{"row":0,"column":0},
 "spec":{"width":124,"height":163,"layer":[
  {"mark":{"type":"area","color":"#adadad","line":{"color":"black","strokeWidth":1.1}},
   "encoding":{"x":{"field":"x","type":"quantitative","scale":{"type":"log","domain":[1,1000]},"axis":{"values":[1,10,100],"labels":false,"title":null}},
    "y":{"field":"f","type":"quantitative","scale":{"domain":[0,100]},"axis":{"values":[0,100],"labels":false,"title":null}}}},
  {"mark":{"type":"line","color":"black","strokeWidth":1},"encoding":{"x":{"field":"x","type":"quantitative"},"y":{"field":"o","type":"quantitative"}}}
 ]}}
]},
{"transform":[{"filter":"datum.r==='D'"}],
 "title":{"text":"anti-IgM","orient":"bottom","offset":10,"anchor":"middle"},
 "bounds":"flush",
 "facet":{"row":{"field":"r","type":"nominal","header":{"title":null,"labelAngle":0,"labelFontSize":29,"labelPadding":-7}},
  "column":{"field":"p","type":"nominal","sort":["P8","P2","P3","P4","P5","P9"],"header":{"title":null,"labels":false}}},
 "spacing":{"row":0,"column":0},
 "spec":{"width":124,"height":163,"layer":[
  {"mark":{"type":"area","color":"#adadad","line":{"color":"black","strokeWidth":1.1}},
   "encoding":{"x":{"field":"x","type":"quantitative","scale":{"type":"log","domain":[1,1000]},"axis":{"values":[1,10,100],"title":null,"format":"d","labelPadding":7}},
    "y":{"field":"f","type":"quantitative","scale":{"domain":[0,100]},"axis":{"values":[0,100],"labels":false,"title":null}}}},
  {"mark":{"type":"line","color":"black","strokeWidth":1},"encoding":{"x":{"field":"x","type":"quantitative"},"y":{"field":"o","type":"quantitative"}}}
 ]}}
]
}
